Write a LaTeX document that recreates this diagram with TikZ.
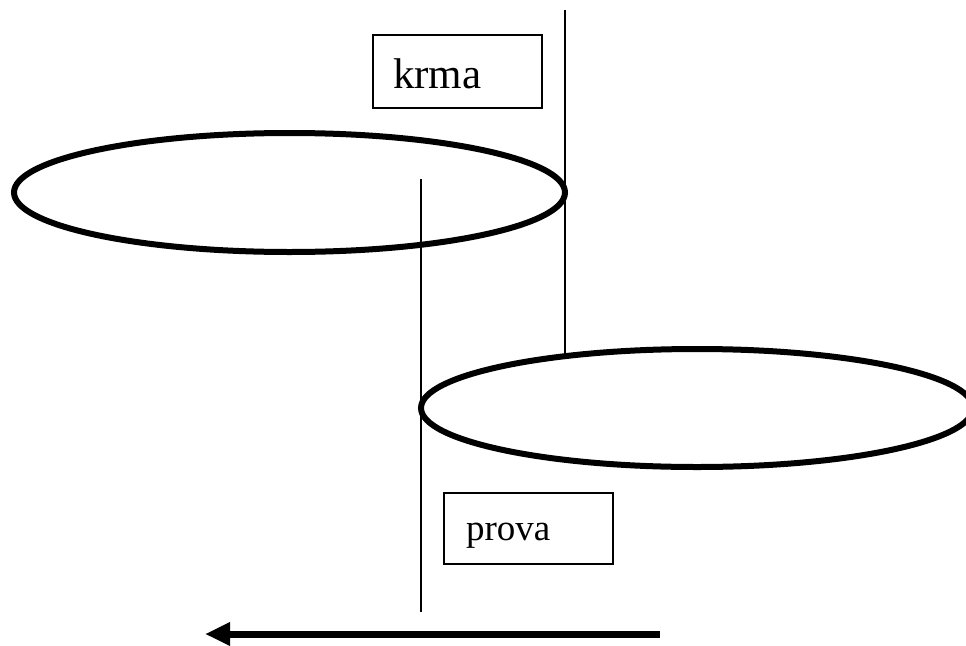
\documentclass[tikz,border=0pt]{standalone}
\usepackage{fontspec}
\setmainfont{Liberation Serif}
\usetikzlibrary{shapes.geometric,arrows.meta}
\begin{document}
\begin{tikzpicture}[x=1pt,y=-1pt,
  oval/.style={ellipse,draw,line width=6pt,inner sep=0pt},
  labelbox/.style={rectangle,draw,line width=1.2pt,align=left,inner ysep=0pt},
  thinline/.style={line width=1.4pt},
  bigarrow/.style={line width=7pt,-{Triangle[length=25pt,width=22pt]}}]
\useasboundingbox (0,0) rectangle (966,645);
\node[oval,minimum width=551pt,minimum height=119pt] (e1) at (289.5,192.5) {};
\node[oval,minimum width=552pt,minimum height=118pt] (e2) at (697,408) {};
\node[labelbox,inner xsep=20pt,text width=129pt,minimum height=73pt,
      text height=33pt,text depth=0pt,font=\fontsize{43pt}{45pt}\selectfont]
      (krma) at (457.5,71.5) {krma};
\node[labelbox,inner xsep=22pt,text width=125pt,minimum height=71pt,
      text height=30pt,text depth=7pt,font=\fontsize{37pt}{40pt}\selectfont]
      (prova) at (528.5,528.5) {prova};
\coordinate (rtop) at (565,10);
\coordinate (rbot) at (565,353);
\coordinate (ltop) at (421,179);
\coordinate (lbot) at (421,612);
\coordinate (astart) at (660,634);
\coordinate (aend) at (205,634);
\draw[thinline] (rtop) -- (rbot);
\draw[thinline] (ltop) -- (lbot);
\draw[bigarrow] (astart) -- (aend);
\end{tikzpicture}
\end{document}
